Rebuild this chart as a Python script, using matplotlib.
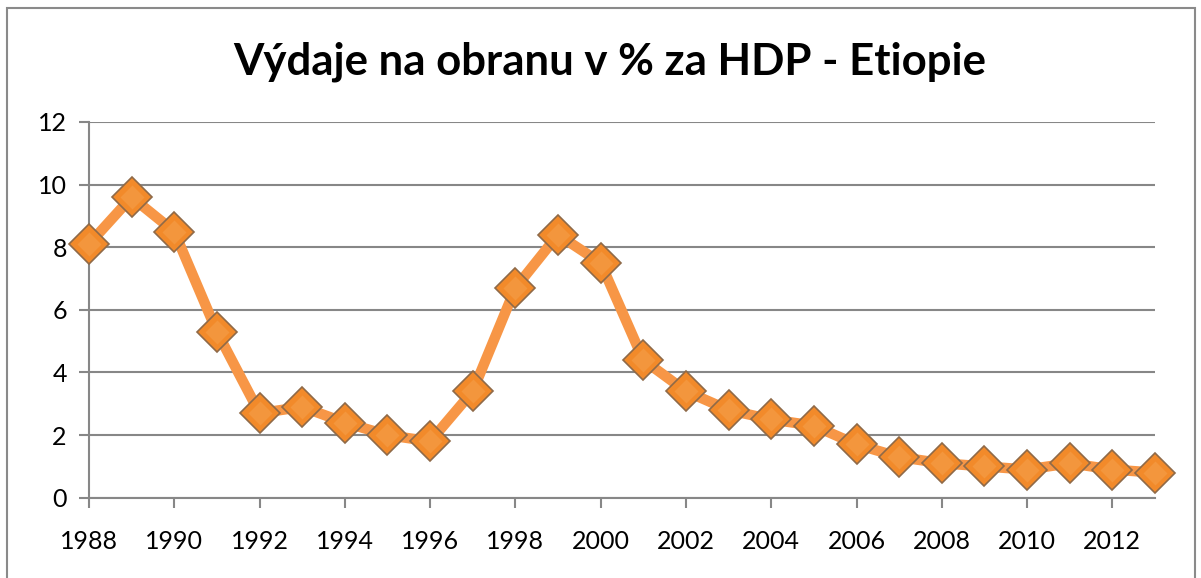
import numpy as np
import matplotlib.pyplot as plt
from matplotlib.patches import Rectangle

# Data
years = list(range(1988, 2014))
values = [8.1, 9.6, 8.5, 5.3, 2.7, 2.9, 2.4, 2.0, 1.8, 3.4, 6.7, 8.4, 7.5,
          4.4, 3.4, 2.8, 2.5, 2.3, 1.7, 1.3, 1.1, 1.0, 0.9, 1.1, 0.9, 0.8]
xticks = list(range(1988, 2013, 2))
yticks = [0, 2, 4, 6, 8, 10, 12]

FONT = "Lato"
GRID = "#878787"
ORANGE = "#F79646"

fig = plt.figure(figsize=(12.01, 5.78), dpi=100, facecolor="white")
ax = fig.add_axes([0.0741, 0.1389, 0.8876, 0.6501])

# chart border
fig.patches.append(Rectangle((0.006, -0.02), 0.989, 1.006, transform=fig.transFigure,
                             fill=False, edgecolor="#8A8A8A", lw=1.5))

ax.plot(years, values, color=ORANGE, lw=7.5, solid_joinstyle="round", zorder=3)
ax.plot(years, values, ls="none", marker="D", ms=20, mfc="#F28A2A",
        mec="#8F6A48", mew=1.2, zorder=4, clip_on=False)
# soft highlight on the markers
ax.plot(years, values, ls="none", marker="D", ms=12, mfc="#F6A555",
        mec="none", alpha=0.45, zorder=5, clip_on=False)

ax.set_xlim(1988, 2013)
ax.set_ylim(0, 12)
ax.set_xticks(xticks)
ax.set_yticks(yticks)
ax.yaxis.grid(True, color=GRID, lw=1.5)
ax.set_axisbelow(True)

for s in ["top", "right"]:
    ax.spines[s].set_visible(False)
for s in ["left", "bottom"]:
    ax.spines[s].set_color(GRID)
    ax.spines[s].set_linewidth(1.5)

ax.tick_params(axis="both", colors=GRID, width=1.5, length=7, direction="out",
               labelcolor="black", labelsize=18)
ax.tick_params(axis="x", pad=16)
ax.tick_params(axis="y", pad=9)
for lab in ax.get_xticklabels() + ax.get_yticklabels():
    lab.set_fontfamily(FONT)

fig.text(0.508, 0.893, "Výdaje na obranu v % za HDP - Etiopie", ha="center", va="center",
         fontsize=31.5, fontweight="bold", family=FONT)

plt.savefig("out.png", dpi=100, facecolor="white")
plt.close()
